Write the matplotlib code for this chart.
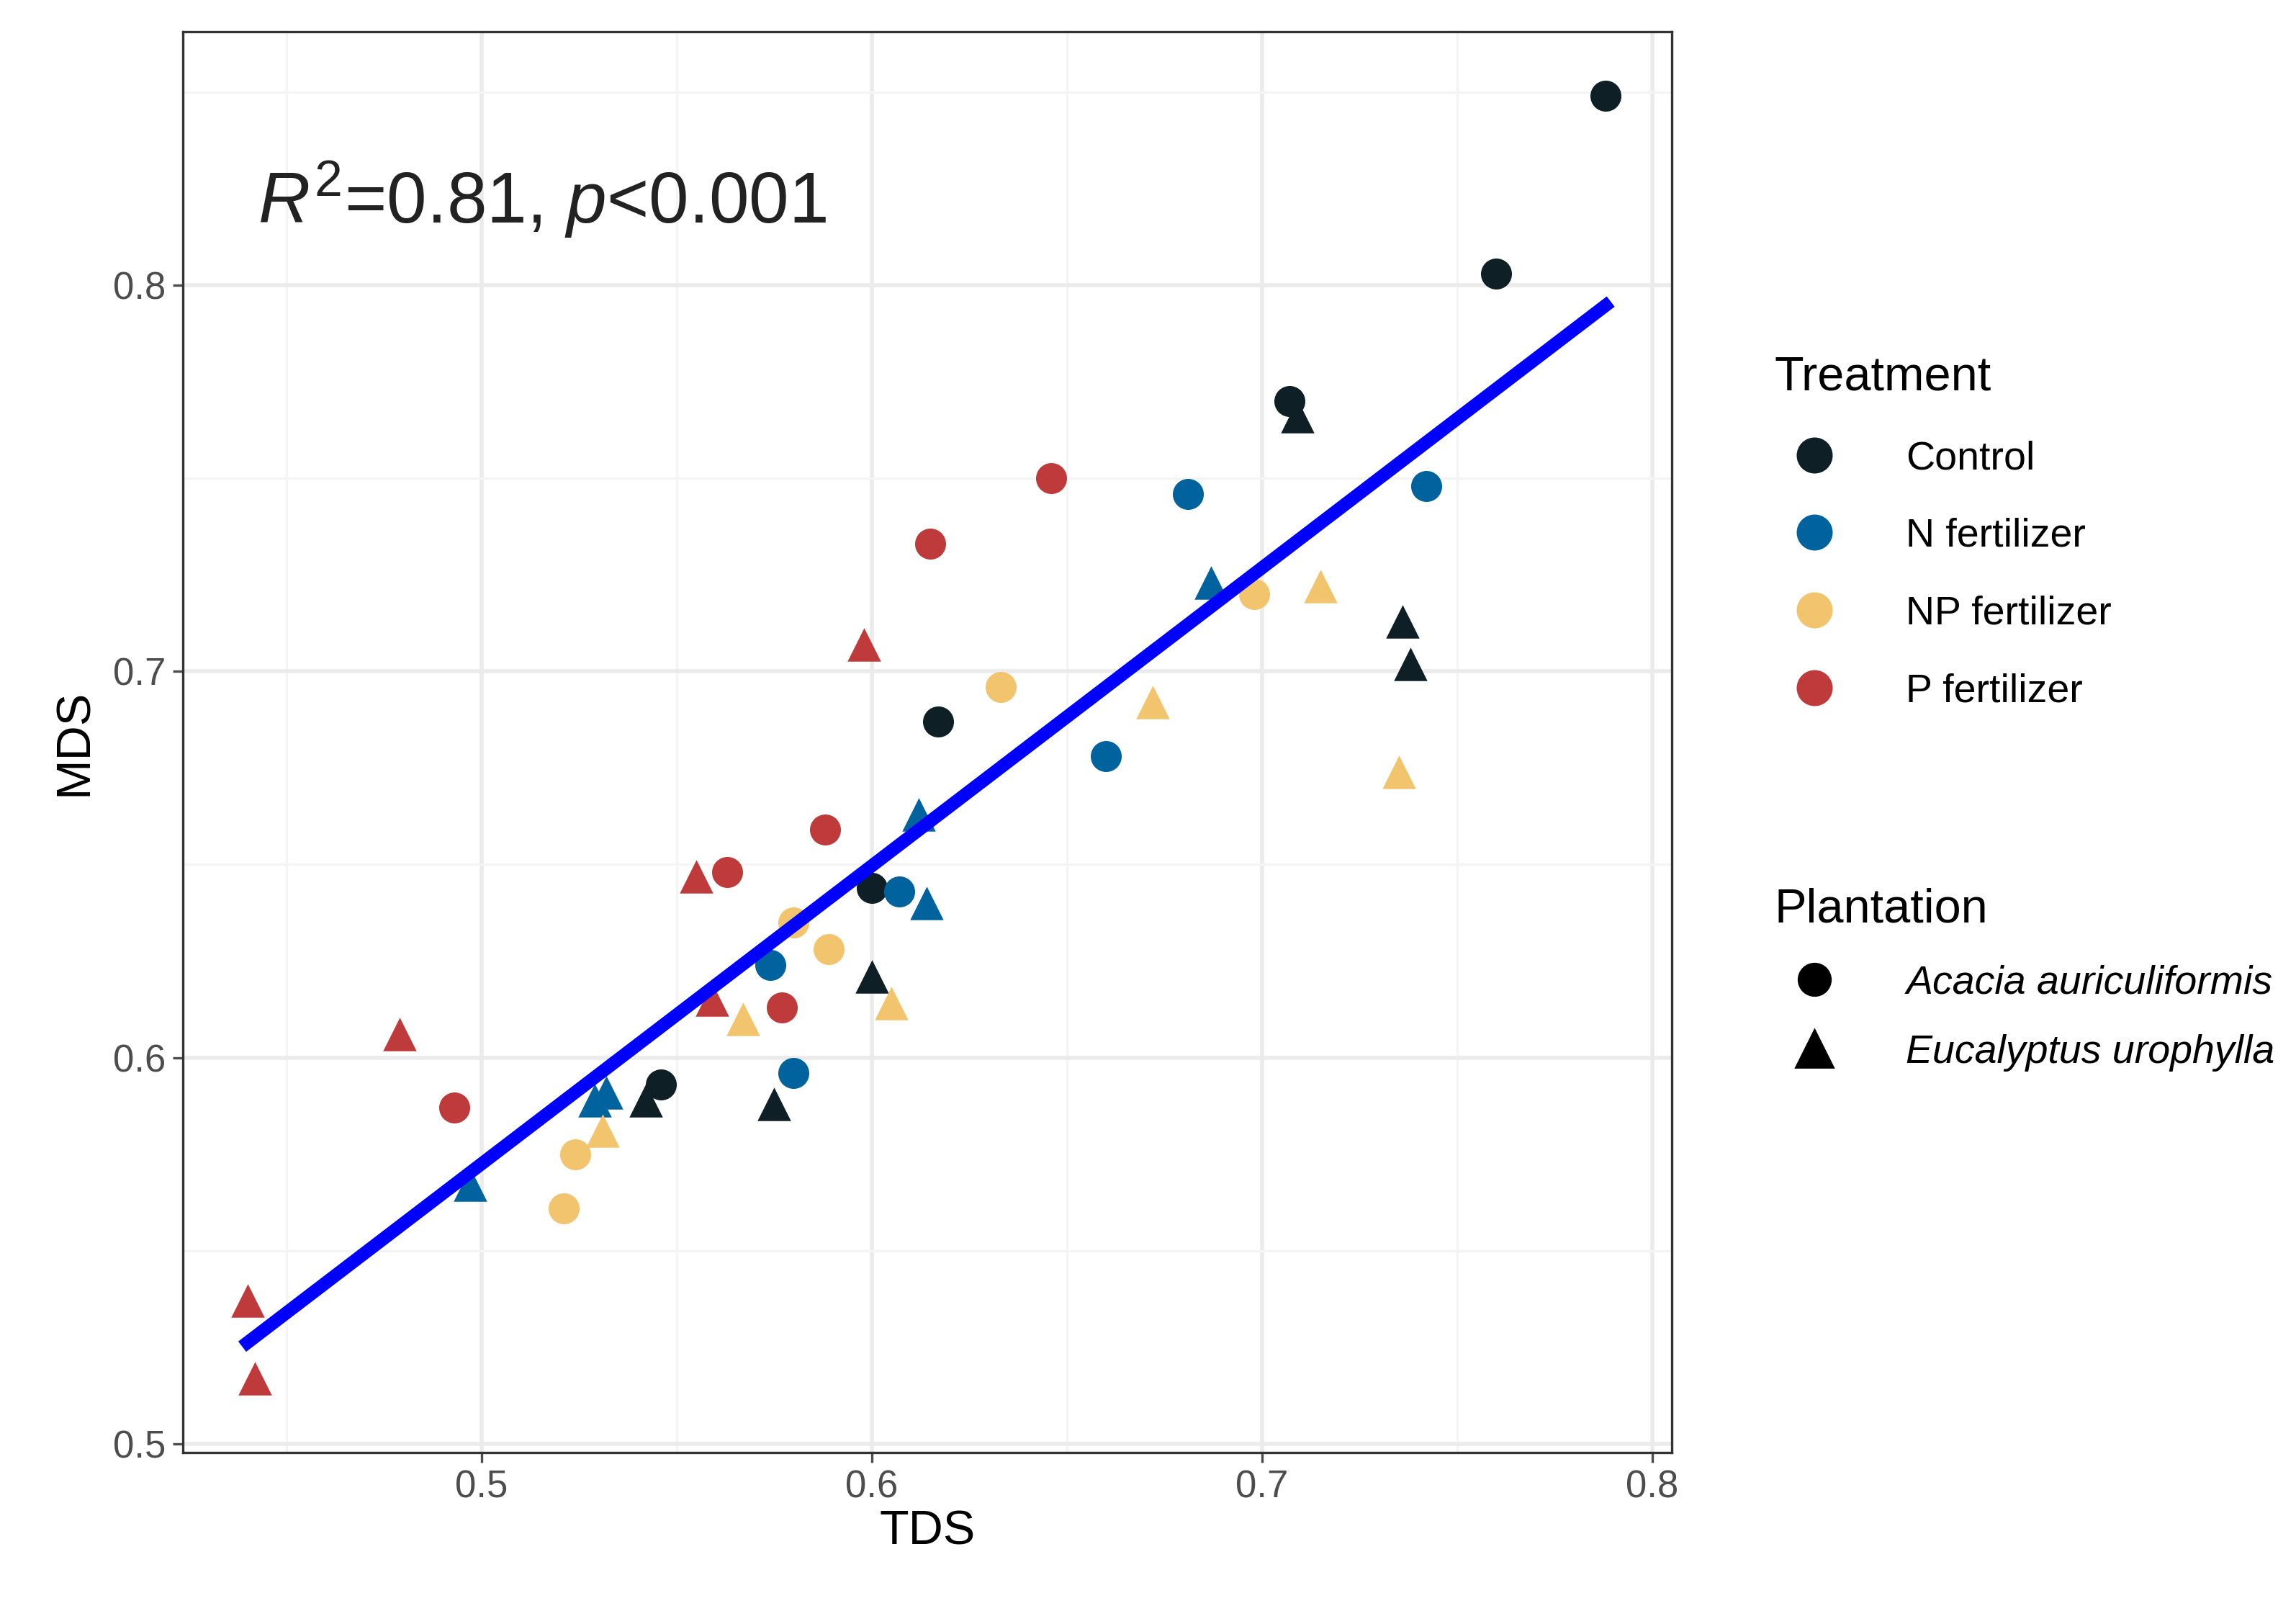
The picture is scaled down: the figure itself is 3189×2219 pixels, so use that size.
import numpy as np
import matplotlib
matplotlib.use("Agg")
import matplotlib.pyplot as plt
from matplotlib.lines import Line2D

plt.rcParams["font.family"] = "Liberation Sans"
plt.rcParams["mathtext.fontset"] = "custom"
plt.rcParams["mathtext.it"] = "Liberation Sans:italic"
plt.rcParams["mathtext.rm"] = "Liberation Sans"

treatments = ["Control", "N fertilizer", "NP fertilizer", "P fertilizer"]
colors = {"Control": "#0f1f26", "N fertilizer": "#00639e", "NP fertilizer": "#f2c46d", "P fertilizer": "#bf3b3b"}

# (TDS, MDS) for Acacia (circles) and Eucalyptus (triangles)
acacia_tds = {
    "Control": [0.788, 0.760, 0.707, 0.617, 0.600, 0.546],
    "N fertilizer": [0.681, 0.742, 0.660, 0.607, 0.574, 0.580],
    "NP fertilizer": [0.698, 0.633, 0.580, 0.589, 0.524, 0.521],
    "P fertilizer": [0.646, 0.615, 0.588, 0.563, 0.577, 0.493],
}
acacia_mds = {
    "Control": [0.849, 0.803, 0.770, 0.687, 0.644, 0.593],
    "N fertilizer": [0.746, 0.748, 0.678, 0.643, 0.624, 0.596],
    "NP fertilizer": [0.720, 0.696, 0.635, 0.628, 0.575, 0.561],
    "P fertilizer": [0.750, 0.733, 0.659, 0.648, 0.613, 0.587],
}
euc_tds = {
    "Control": [0.709, 0.736, 0.738, 0.600, 0.542, 0.575],
    "N fertilizer": [0.687, 0.612, 0.614, 0.532, 0.529, 0.497],
    "NP fertilizer": [0.715, 0.672, 0.735, 0.605, 0.567, 0.531],
    "P fertilizer": [0.598, 0.555, 0.559, 0.479, 0.440, 0.442],
}
euc_mds = {
    "Control": [0.766, 0.713, 0.702, 0.621, 0.589, 0.588],
    "N fertilizer": [0.723, 0.663, 0.640, 0.591, 0.589, 0.567],
    "NP fertilizer": [0.722, 0.692, 0.674, 0.614, 0.610, 0.581],
    "P fertilizer": [0.707, 0.647, 0.615, 0.606, 0.537, 0.517],
}

fig = plt.figure(figsize=(15.945, 11.095), dpi=200)
ax = fig.add_axes([0.0797, 0.091, 0.6483, 0.889])

for t in treatments:
    ax.scatter(acacia_tds[t], acacia_mds[t], s=240, marker="o", color=colors[t], zorder=3, linewidths=0)
    ax.scatter(euc_tds[t], euc_mds[t], s=280, marker="^", color=colors[t], zorder=3, linewidths=0)

allx = np.concatenate([acacia_tds[t] + euc_tds[t] for t in treatments])
ally = np.concatenate([acacia_mds[t] + euc_mds[t] for t in treatments])
k, b = np.polyfit(allx, ally, 1)
xs = np.array([allx.min(), allx.max()])
ax.plot(xs, k * xs + b, color="#0000ff", lw=6.5, zorder=4)

ax.set_xlim(0.4235, 0.8049)
ax.set_ylim(0.4977, 0.8656)
ax.set_xticks([0.5, 0.6, 0.7, 0.8])
ax.set_yticks([0.5, 0.6, 0.7, 0.8])
ax.set_xticks([0.45, 0.55, 0.65, 0.75], minor=True)
ax.set_yticks([0.55, 0.65, 0.75, 0.85], minor=True)
ax.grid(True, which="major", color="#ebebeb", lw=2)
ax.grid(True, which="minor", color="#f4f4f4", lw=1.2)
ax.set_axisbelow(True)
ax.tick_params(which="minor", length=0)
ax.tick_params(which="major", labelsize=19, colors="#4d4d4d", length=5, width=1.2)
for s in ax.spines.values():
    s.set_color("#333333"); s.set_linewidth(1.2)
ax.set_xlabel("TDS", fontsize=24, labelpad=2)
ax.set_ylabel("MDS", fontsize=24, labelpad=8)
ax.text(0.05, 0.865, r"$R^2$=0.81, $p$<0.001", transform=ax.transAxes, fontsize=36, color="#222222")

h1 = [Line2D([], [], marker="o", ls="", color=colors[t], markersize=17, label=t) for t in treatments]
leg1 = fig.legend(handles=h1, title="Treatment", loc="upper left", bbox_to_anchor=(0.757, 0.80),
                  frameon=False, fontsize=20, title_fontsize=24, labelspacing=1.0, handletextpad=1.3)
leg1._legend_box.align = "left"
h2 = [Line2D([], [], marker="o", ls="", color="black", markersize=16, label="Acacia auriculiformis"),
      Line2D([], [], marker="^", ls="", color="black", markersize=19, label="Eucalyptus urophylla")]
leg2 = fig.legend(handles=h2, title="Plantation", loc="upper left", bbox_to_anchor=(0.757, 0.467),
                  frameon=False, fontsize=20, title_fontsize=24, labelspacing=0.8, handletextpad=1.3)
leg2._legend_box.align = "left"
for txt in leg2.get_texts():
    txt.set_style("italic")

fig.savefig("out.png", dpi=200)
